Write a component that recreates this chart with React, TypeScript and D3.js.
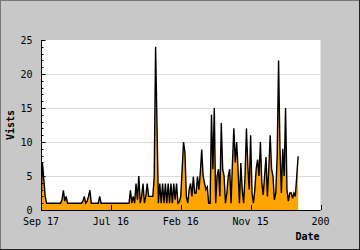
import React from "react";
import * as d3 from "d3";

const visits: number[] = [
  1, 7, 4.5, 2, 1, 1, 1, 1, 1, 1, 1, 1, 1, 1, 1, 1.5, 2.9, 1.3, 2,
  1, 1, 1, 1, 1, 1, 1, 1, 1, 1, 1, 1.3, 2, 1, 1.3, 2, 2.9, 1,
  1, 1, 1, 1, 1, 2, 1, 1, 1, 1, 1, 1, 1, 1, 1, 1, 1, 1, 1, 1, 1, 1, 1, 1, 1, 1, 1,
  2.9, 1, 2, 1, 3.9, 1.5, 5, 1, 2, 3.9, 1, 2, 3.9, 2, 2, 2, 2, 4.8, 24, 12.5,
  1, 3.9, 1, 3.9, 1, 3.9, 1, 3.9, 1, 3.9, 1, 3.9, 1.5, 3.9, 1, 1.2,
  2, 6, 10, 8.5, 2, 1, 3, 3.9, 2, 4.9, 2.5, 2.5, 4.9, 3, 5.5, 8.9, 5, 4, 3, 3.4,
  1, 1, 14, 6, 15, 1, 5, 6, 2, 12.8, 6, 5, 1, 2.5, 5, 6, 1, 7, 12, 7,
  10, 6, 1, 6.9, 3, 1, 5, 12, 6.4, 3, 11, 2.5, 1, 3, 6.1, 7.4, 5, 10, 4, 2.2,
  5, 7.8, 2, 6.1, 11, 6, 5, 1.5, 2.5, 8, 22, 9, 2.5, 9, 5, 15, 3, 1.3, 2.5, 2.5,
  1.7, 2.5, 2, 5, 7.9,
];

const xTickValues: number[] = [0, 50, 100, 150, 200];
const xTickLabels: string[] = ["Sep 17", "Jul 16", "Feb 16", "Nov 15", "200"];
const yMajorTicks: number[] = [0, 5, 10, 15, 20, 25];
const yGridTicks: number[] = [5, 10, 15, 20];
const yMinorTicks: number[] = d3.range(0, 26);

const W = 360;
const H = 250;
const left = 41;
const right = 320.5;
const top = 40;
const bottom = 210;
const font = "'DejaVu Sans Mono', monospace";

export default function App() {
  const x = d3.scaleLinear().domain([0, 200]).range([left, right]);
  const y = d3.scaleLinear().domain([0, 25]).range([bottom, top]);

  const area = d3
    .area<number>()
    .x((_, i) => x(i))
    .y0(y(0))
    .y1((d) => y(d));
  const line = d3
    .line<number>()
    .x((_, i) => x(i))
    .y((d) => y(d));

  return (
    <svg
      width={W}
      height={H}
      style={{ position: "absolute", left: 0, top: 0, display: "block" }}
    >
      <defs>
        <clipPath id="plotclip">
          <rect x={left} y={top} width={right - left} height={bottom - top} />
        </clipPath>
      </defs>
      <rect x={0} y={0} width={W} height={H} fill="#c8c8c8" />
      {/* border */}
      <line x1={0.5} y1={0} x2={0.5} y2={H} stroke="#777" />
      <line x1={0} y1={0.5} x2={W} y2={0.5} stroke="#777" />
      <line x1={W - 0.5} y1={0} x2={W - 0.5} y2={H} stroke="#222" />
      <line x1={0} y1={H - 0.5} x2={W} y2={H - 0.5} stroke="#222" />

      <rect x={left} y={top} width={right - left} height={bottom - top} fill="#fff" />

      {yGridTicks.map((t) => (
        <line
          key={"g" + t}
          x1={left}
          x2={right}
          y1={Math.round(y(t)) + 0.5}
          y2={Math.round(y(t)) + 0.5}
          stroke="#dcdcdc"
        />
      ))}

      <g clipPath="url(#plotclip)">
        <path d={area(visits) || ""} fill="#ffa500" />
        <path d={line(visits) || ""} fill="none" stroke="#000" strokeWidth={1.4} />
      </g>

      {/* y axis */}
      <line x1={left + 0.5} x2={left + 0.5} y1={top} y2={bottom} stroke="#000" />
      {yMinorTicks.map((t) => (
        <line
          key={"m" + t}
          x1={left}
          x2={left + (t % 5 === 0 ? 4.5 : 2.5)}
          y1={Math.round(y(t)) + 0.5}
          y2={Math.round(y(t)) + 0.5}
          stroke="#000"
        />
      ))}
      {yMajorTicks.map((t) => (
        <text
          key={"yl" + t}
          x={32.5}
          y={y(t) + 4}
          textAnchor="end"
          fontFamily={font}
          fontSize={10}
          fill="#000"
        >
          {t}
        </text>
      ))}

      {/* x axis */}
      <line x1={left} x2={right} y1={bottom + 0.5} y2={bottom + 0.5} stroke="#000" />
      {xTickValues.map((t, i) => (
        <g key={"xt" + t}>
          <line
            x1={Math.round(x(t)) + 0.5}
            x2={Math.round(x(t)) + 0.5}
            y1={bottom - 5}
            y2={bottom}
            stroke="#000"
          />
          <text
            x={x(t)}
            y={225}
            textAnchor="middle"
            fontFamily={font}
            fontSize={10}
            fill="#000"
          >
            {xTickLabels[i]}
          </text>
        </g>
      ))}

      <text
        x={319.5}
        y={240}
        textAnchor="end"
        fontFamily={font}
        fontSize={10}
        fontWeight="bold"
        fill="#000"
      >
        Date
      </text>
      <text
        transform={`translate(14,${(top + bottom) / 2}) rotate(-90)`}
        textAnchor="middle"
        fontFamily={font}
        fontSize={10}
        fontWeight="bold"
        fill="#000"
      >
        Vists
      </text>
    </svg>
  );
}
